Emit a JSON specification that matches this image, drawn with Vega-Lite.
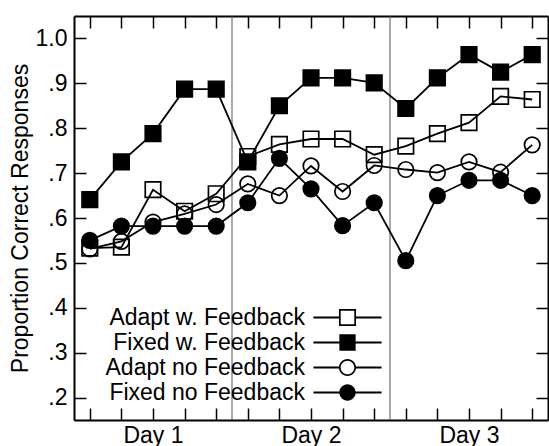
{
  "$schema": "https://vega.github.io/schema/vega-lite/v6.json",
  "width": 474,
  "height": 404,
  "autosize": {"type": "none"},
  "padding": {"left": 74, "top": 16, "right": 1, "bottom": 26},
  "background": "white",
  "config": {
    "view": {"stroke": null},
    "font": "Liberation Sans",
    "axis": {
      "grid": false,
      "domainColor": "black",
      "domainWidth": 2,
      "tickColor": "black",
      "tickWidth": 1.5,
      "tickSize": -12,
      "labelColor": "black",
      "labelFont": "Liberation Sans",
      "labelFontSize": 23,
      "titleFont": "Liberation Sans",
      "titleFontSize": 23,
      "titleFontWeight": "normal",
      "titleColor": "black"
    }
  },
  "datasets": {
    "d": [
      {"s": 1, "series": "Adapt w. Feedback", "v": 0.533},
      {"s": 2, "series": "Adapt w. Feedback", "v": 0.535},
      {"s": 3, "series": "Adapt w. Feedback", "v": 0.663},
      {"s": 4, "series": "Adapt w. Feedback", "v": 0.615},
      {"s": 5, "series": "Adapt w. Feedback", "v": 0.654},
      {"s": 6, "series": "Adapt w. Feedback", "v": 0.737},
      {"s": 7, "series": "Adapt w. Feedback", "v": 0.764},
      {"s": 8, "series": "Adapt w. Feedback", "v": 0.776},
      {"s": 9, "series": "Adapt w. Feedback", "v": 0.776},
      {"s": 10, "series": "Adapt w. Feedback", "v": 0.741},
      {"s": 11, "series": "Adapt w. Feedback", "v": 0.760},
      {"s": 12, "series": "Adapt w. Feedback", "v": 0.788},
      {"s": 13, "series": "Adapt w. Feedback", "v": 0.8125},
      {"s": 14, "series": "Adapt w. Feedback", "v": 0.871},
      {"s": 15, "series": "Adapt w. Feedback", "v": 0.864},
      {"s": 1, "series": "Fixed w. Feedback", "v": 0.641},
      {"s": 2, "series": "Fixed w. Feedback", "v": 0.725},
      {"s": 3, "series": "Fixed w. Feedback", "v": 0.788},
      {"s": 4, "series": "Fixed w. Feedback", "v": 0.887},
      {"s": 5, "series": "Fixed w. Feedback", "v": 0.887},
      {"s": 6, "series": "Fixed w. Feedback", "v": 0.725},
      {"s": 7, "series": "Fixed w. Feedback", "v": 0.850},
      {"s": 8, "series": "Fixed w. Feedback", "v": 0.912},
      {"s": 9, "series": "Fixed w. Feedback", "v": 0.912},
      {"s": 10, "series": "Fixed w. Feedback", "v": 0.901},
      {"s": 11, "series": "Fixed w. Feedback", "v": 0.844},
      {"s": 12, "series": "Fixed w. Feedback", "v": 0.912},
      {"s": 13, "series": "Fixed w. Feedback", "v": 0.964},
      {"s": 14, "series": "Fixed w. Feedback", "v": 0.925},
      {"s": 15, "series": "Fixed w. Feedback", "v": 0.964},
      {"s": 1, "series": "Adapt no Feedback", "v": 0.531},
      {"s": 2, "series": "Adapt no Feedback", "v": 0.548},
      {"s": 3, "series": "Adapt no Feedback", "v": 0.591},
      {"s": 4, "series": "Adapt no Feedback", "v": 0.609},
      {"s": 5, "series": "Adapt no Feedback", "v": 0.630},
      {"s": 6, "series": "Adapt no Feedback", "v": 0.676},
      {"s": 7, "series": "Adapt no Feedback", "v": 0.650},
      {"s": 8, "series": "Adapt no Feedback", "v": 0.716},
      {"s": 9, "series": "Adapt no Feedback", "v": 0.659},
      {"s": 10, "series": "Adapt no Feedback", "v": 0.717},
      {"s": 11, "series": "Adapt no Feedback", "v": 0.708},
      {"s": 12, "series": "Adapt no Feedback", "v": 0.701},
      {"s": 13, "series": "Adapt no Feedback", "v": 0.725},
      {"s": 14, "series": "Adapt no Feedback", "v": 0.702},
      {"s": 15, "series": "Adapt no Feedback", "v": 0.763},
      {"s": 1, "series": "Fixed no Feedback", "v": 0.550},
      {"s": 2, "series": "Fixed no Feedback", "v": 0.582},
      {"s": 3, "series": "Fixed no Feedback", "v": 0.582},
      {"s": 4, "series": "Fixed no Feedback", "v": 0.582},
      {"s": 5, "series": "Fixed no Feedback", "v": 0.582},
      {"s": 6, "series": "Fixed no Feedback", "v": 0.634},
      {"s": 7, "series": "Fixed no Feedback", "v": 0.733},
      {"s": 8, "series": "Fixed no Feedback", "v": 0.665},
      {"s": 9, "series": "Fixed no Feedback", "v": 0.583},
      {"s": 10, "series": "Fixed no Feedback", "v": 0.634},
      {"s": 11, "series": "Fixed no Feedback", "v": 0.505},
      {"s": 12, "series": "Fixed no Feedback", "v": 0.650},
      {"s": 13, "series": "Fixed no Feedback", "v": 0.684},
      {"s": 14, "series": "Fixed no Feedback", "v": 0.684},
      {"s": 15, "series": "Fixed no Feedback", "v": 0.650}
    ],
    "seps": [{"sep": 5.5}, {"sep": 10.5}]
  },
  "layer": [
    {
      "data": {"name": "seps"},
      "mark": {"type": "rule", "color": "#555555", "strokeWidth": 1},
      "encoding": {
        "x": {
          "field": "sep", "type": "quantitative",
          "scale": {"domain": [0.5, 15.5], "nice": false, "zero": false},
          "axis": {"orient": "top", "labels": false, "title": null, "values": [1,2,3,4,5,6,7,8,9,10,11,12,13,14,15]}
        }
      }
    },
    {
      "data": {"name": "d"},
      "mark": {"type": "line", "color": "black", "strokeWidth": 1.8},
      "encoding": {
        "x": {
          "field": "s", "type": "quantitative",
          "scale": {"domain": [0.5, 15.5], "nice": false, "zero": false},
          "axis": {
            "orient": "bottom", "title": null,
            "values": [1,2,3,4,5,6,7,8,9,10,11,12,13,14,15],
            "labelExpr": "datum.value == 3 ? 'Day 1' : datum.value == 8 ? 'Day 2' : datum.value == 13 ? 'Day 3' : ''",
            "labelFontSize": 23,
            "labelPadding": 16
          }
        },
        "y": {
          "field": "v", "type": "quantitative",
          "scale": {"domain": [0.15, 1.05], "nice": false, "zero": false},
          "axis": {
            "orient": "left",
            "title": "Proportion Correct Responses",
            "values": [0.2, 0.3, 0.4, 0.5, 0.6, 0.7, 0.8, 0.9, 1.0],
            "labelExpr": "replace(format(datum.value, '.1f'), '0.', '.')",
            "labelPadding": 19,
            "titlePadding": 3
          }
        },
        "detail": {"field": "series"}
      }
    },
    {
      "data": {"name": "d"},
      "mark": {"type": "point", "filled": false, "color": "black", "strokeWidth": 1.7, "size": 240, "opacity": 1},
      "encoding": {
        "x": {"field": "s", "type": "quantitative", "axis": null},
        "y": {
          "field": "v", "type": "quantitative",
          "axis": {"orient": "right", "labels": false, "title": null, "values": [0.2, 0.3, 0.4, 0.5, 0.6, 0.7, 0.8, 0.9, 1.0]}
        },
        "shape": {
          "field": "series", "type": "nominal",
          "scale": {
            "domain": ["Adapt w. Feedback", "Fixed w. Feedback", "Adapt no Feedback", "Fixed no Feedback"],
            "range": ["square", "square", "circle", "circle"]
          },
          "legend": null
        },
        "fill": {
          "field": "series", "type": "nominal",
          "scale": {
            "domain": ["Adapt w. Feedback", "Fixed w. Feedback", "Adapt no Feedback", "Fixed no Feedback"],
            "range": ["transparent", "black", "transparent", "black"]
          },
          "legend": null
        }
      }
    },
    {
      "data": {"name": "d"},
      "mark": {"type": "point", "filled": true, "color": "black", "size": 240, "opacity": 0},
      "encoding": {
        "x": {"field": "s", "type": "quantitative", "axis": null},
        "y": {"field": "v", "type": "quantitative", "axis": null},
        "shape": {
          "field": "series", "type": "nominal",
          "scale": {
            "domain": ["Adapt w. Feedback", "Fixed w. Feedback", "Adapt no Feedback", "Fixed no Feedback"],
            "range": [
              "M-4.4,-0.115H-1.1V0.115H-4.4ZM1.1,-0.115H4.4V0.115H1.1ZM-1.1,-1.1H1.1V1.1H-1.1ZM-0.88,-0.88V0.88H0.88V-0.88Z",
              "M-4.4,-0.115H-1.05V0.115H-4.4ZM1.05,-0.115H4.4V0.115H1.05ZM-1.05,-1.05H1.05V1.05H-1.05Z",
              "M-4.4,-0.115H-1.08V0.115H-4.4ZM1.08,-0.115H4.4V0.115H1.08ZM1.1,0A1.1,1.1,0,1,1,-1.1,0A1.1,1.1,0,1,1,1.1,0ZM0.88,0A0.88,0.88,0,1,0,-0.88,0A0.88,0.88,0,1,0,0.88,0Z",
              "M-4.4,-0.115H-1.03V0.115H-4.4ZM1.03,-0.115H4.4V0.115H1.03ZM1.05,0A1.05,1.05,0,1,1,-1.05,0A1.05,1.05,0,1,1,1.05,0Z"
            ]
          },
          "legend": {
            "orient": "none", "legendX": 262, "legendY": 290, "title": null,
            "padding": 0,
            "labelFont": "Liberation Sans", "labelFontSize": 23, "labelColor": "black",
            "labelAlign": "right", "labelOffset": -54, "labelLimit": 400,
            "symbolSize": 240, "symbolFillColor": "black", "symbolStrokeWidth": 0,
            "symbolOpacity": 1,
            "rowPadding": 1
          }
        }
      }
    }
  ],
  "resolve": {
    "axis": {"x": "independent", "y": "independent"},
    "scale": {"shape": "independent"}
  }
}
